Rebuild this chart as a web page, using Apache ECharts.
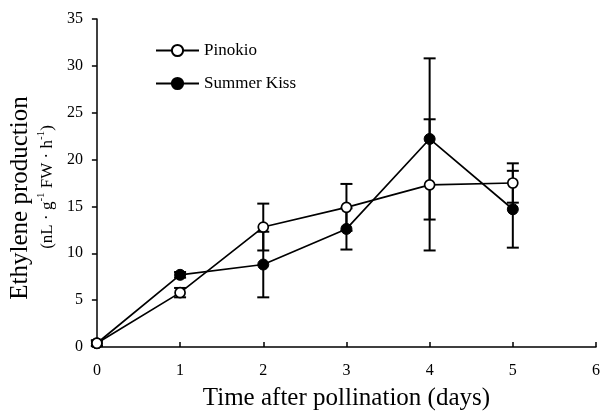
<!DOCTYPE html>
<html>
<head>
<meta charset="utf-8">
<script src="https://cdn.jsdelivr.net/npm/echarts@6/dist/echarts.min.js"></script>
<style>
html,body{margin:0;padding:0;background:#fff;}
#chart{width:603px;height:416px;}
</style>
</head>
<body>
<div id="chart"></div>
<script>
var days = [0, 1, 2, 3, 4, 5];
var pinokio = [0.4, 5.8, 12.8, 14.9, 17.3, 17.5];
var pinokioErr = [0.3, 0.5, 2.5, 2.5, 7.0, 2.1];
var summerKiss = [0.4, 7.7, 8.8, 12.6, 22.2, 14.7];
var summerKissErr = [0.3, 0.3, 3.5, 2.2, 8.6, 4.1];
var yTicks = [0, 5, 10, 15, 20, 25, 30, 35];

var font = "'Liberation Serif', 'Times New Roman', serif";

function pairs(ys){
    var res = [];
    for(var i=0;i<days.length;i++){
        res.push([days[i], ys[i]]);
    }
    return res;
}
function errData(ys, err){
    var res = [];
    for(var i=0;i<days.length;i++){
        res.push([days[i], ys[i]-err[i], ys[i]+err[i]]);
    }
    return res;
}
function renderErr(params, api){
    var x = api.value(0);
    var lo = api.coord([x, api.value(1)]);
    var hi = api.coord([x, api.value(2)]);
    var w = 6;
    var st = {stroke:'#000', lineWidth:2};
    return {
        type:'group',
        children:[
            {type:'line', shape:{x1:lo[0],y1:lo[1],x2:hi[0],y2:hi[1]}, style:st},
            {type:'line', shape:{x1:lo[0]-w,y1:lo[1],x2:lo[0]+w,y2:lo[1]}, style:st},
            {type:'line', shape:{x1:hi[0]-w,y1:hi[1],x2:hi[0]+w,y2:hi[1]}, style:st}
        ]
    };
}

var myChart = echarts.init(document.getElementById('chart'));
var option = {
    animation:false,
    backgroundColor:'#fff',
    textStyle:{fontFamily:font, color:'#000'},
    grid:{left:95, right:3, top:19, bottom:69},
    legend:{
        orient:'vertical',
        left:150, top:37,
        itemWidth:43, itemHeight:14,
        itemGap:16,
        textStyle:{fontFamily:font, fontSize:17, color:'#000'},
        data:['Pinokio','Summer Kiss']
    },
    xAxis:{
        type:'value', min:0, max:6, interval:1,
        name:'Time after pollination (days)',
        nameLocation:'middle', nameGap:39,
        nameTextStyle:{fontFamily:font, fontSize:25, color:'#000'},
        axisLine:{lineStyle:{color:'#000', width:1.5}},
        axisTick:{inside:true, length:5, lineStyle:{color:'#000', width:1.5}},
        axisLabel:{fontFamily:font, fontSize:16, color:'#000', margin:16},
        splitLine:{show:false}
    },
    yAxis:{
        type:'value', min:0, max:35, interval:5,
        name:'{a|Ethylene production}\n{b|(nL · g}{s|-1}{b| FW · h}{s|-1}{c|)}',
        nameLocation:'middle', nameGap:35, nameRotate:90,
        nameTextStyle:{
            color:'#000',
            rich:{
                a:{fontFamily:font, fontSize:25, color:'#000', lineHeight:30, padding:[0,30,0,0]},
                b:{fontFamily:font, fontSize:17, color:'#000', lineHeight:24},
                c:{fontFamily:font, fontSize:17, color:'#000', lineHeight:24, padding:[0,8,0,0]},
                s:{fontFamily:font, fontSize:11, color:'#000', lineHeight:24, verticalAlign:'top', padding:[0,0,8,0]}
            }
        },
        axisLine:{show:true, lineStyle:{color:'#000', width:1.5}},
        axisTick:{show:true, length:5, lineStyle:{color:'#000', width:1.5}},
        axisLabel:{fontFamily:font, fontSize:16, color:'#000', margin:14,
            formatter:function(v){ return yTicks.indexOf(v) >= 0 ? String(v) : ''; }},
        splitLine:{show:false}
    },
    series:[
        {
            type:'custom', name:'errP', renderItem:renderErr,
            data:errData(pinokio, pinokioErr), z:1, silent:true
        },
        {
            type:'custom', name:'errS', renderItem:renderErr,
            data:errData(summerKiss, summerKissErr), z:1, silent:true
        },
        {
            name:'Summer Kiss', type:'line', data:pairs(summerKiss),
            symbol:'circle', symbolSize:11,
            lineStyle:{color:'#000', width:1.7},
            itemStyle:{color:'#000', borderColor:'#000', borderWidth:1},
            z:3
        },
        {
            name:'Pinokio', type:'line', data:pairs(pinokio),
            symbol:'circle', symbolSize:10,
            lineStyle:{color:'#000', width:1.7},
            itemStyle:{color:'#fff', borderColor:'#000', borderWidth:1.7},
            z:4
        }
    ]
};
myChart.setOption(option);
window.onresize = myChart.resize;
</script>
</body>
</html>
